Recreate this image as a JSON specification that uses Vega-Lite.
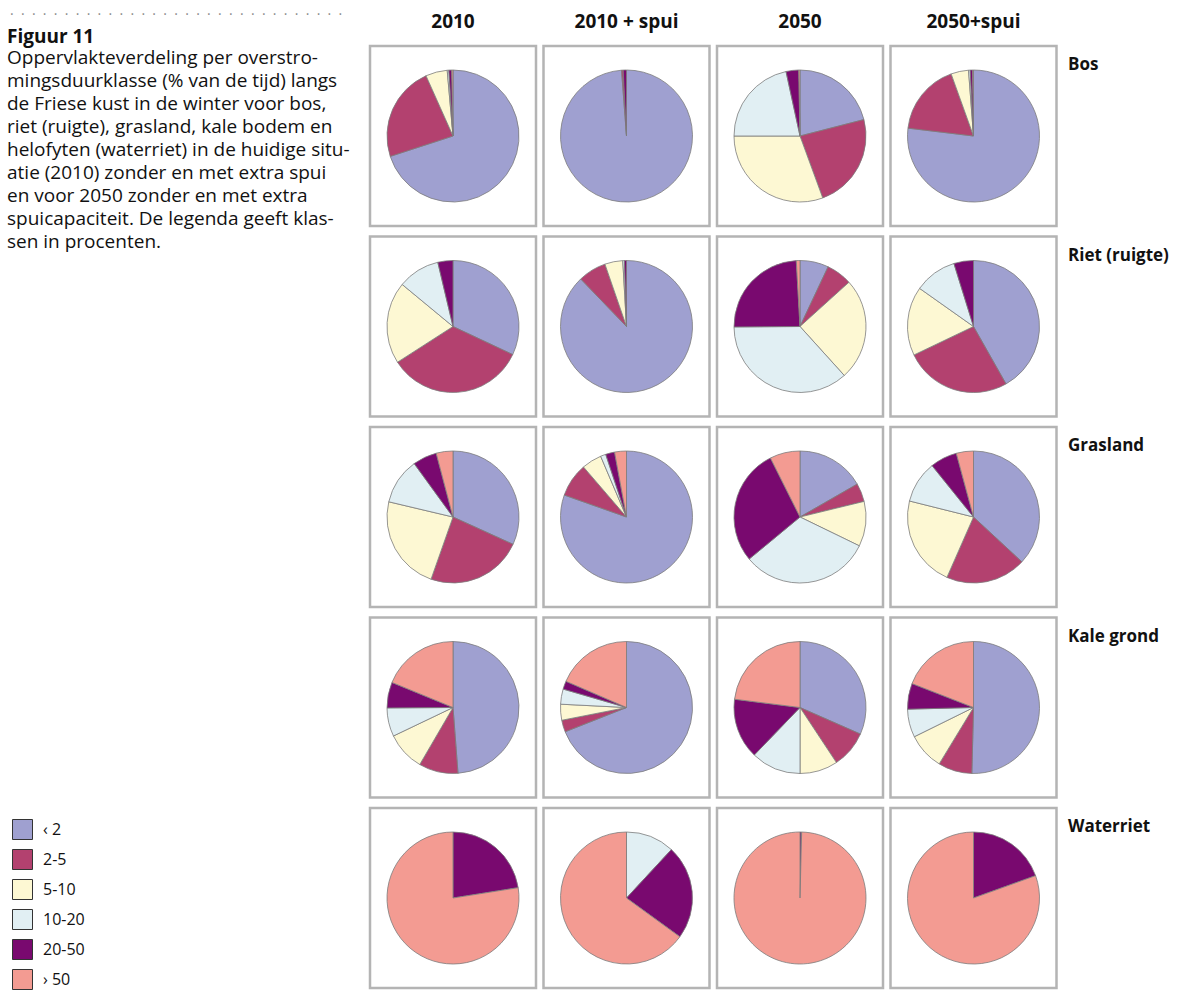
{
  "$schema": "https://vega.github.io/schema/vega-lite/v6.json",
  "padding": {"left": 7, "top": 8, "right": 0, "bottom": 0},
  "background": "white",
  "bounds": "flush",
  "config": {
    "font": "Open Sans",
    "view": {"stroke": null}
  },
  "title": {
    "text": "· \u00a0· \u00a0· \u00a0· \u00a0· \u00a0· \u00a0· \u00a0· \u00a0· \u00a0· \u00a0· \u00a0· \u00a0· \u00a0· \u00a0· \u00a0· \u00a0· \u00a0· \u00a0· \u00a0· \u00a0· \u00a0· \u00a0· \u00a0· \u00a0· \u00a0· \u00a0· \u00a0· \u00a0· \u00a0· \u00a0·",
    "anchor": "start",
    "frame": "bounds",
    "font": "Open Sans",
    "fontSize": 14,
    "fontWeight": "normal",
    "color": "#8a8a8a",
    "offset": 0,
    "dx": 3,
    "dy": 9
  },
  "spacing": 11,
  "datasets": {
    "klassen": [
      {"klasse": "‹ 2", "volgorde": 1},
      {"klasse": "2-5", "volgorde": 2},
      {"klasse": "5-10", "volgorde": 3},
      {"klasse": "10-20", "volgorde": 4},
      {"klasse": "20-50", "volgorde": 5},
      {"klasse": "› 50", "volgorde": 6}
    ],
    "verdeling": [
      {"situatie": "2010", "begroeiing": "Bos", "klasse": "‹ 2", "procent": 70.0},
      {"situatie": "2010", "begroeiing": "Bos", "klasse": "2-5", "procent": 23.3},
      {"situatie": "2010", "begroeiing": "Bos", "klasse": "5-10", "procent": 5.3},
      {"situatie": "2010", "begroeiing": "Bos", "klasse": "10-20", "procent": 0.4},
      {"situatie": "2010", "begroeiing": "Bos", "klasse": "20-50", "procent": 0.7},
      {"situatie": "2010", "begroeiing": "Bos", "klasse": "› 50", "procent": 0.3},
      {"situatie": "2010 + spui", "begroeiing": "Bos", "klasse": "‹ 2", "procent": 98.8},
      {"situatie": "2010 + spui", "begroeiing": "Bos", "klasse": "2-5", "procent": 0.4},
      {"situatie": "2010 + spui", "begroeiing": "Bos", "klasse": "20-50", "procent": 0.8},
      {"situatie": "2050", "begroeiing": "Bos", "klasse": "‹ 2", "procent": 21.0},
      {"situatie": "2050", "begroeiing": "Bos", "klasse": "2-5", "procent": 23.4},
      {"situatie": "2050", "begroeiing": "Bos", "klasse": "5-10", "procent": 30.6},
      {"situatie": "2050", "begroeiing": "Bos", "klasse": "10-20", "procent": 21.6},
      {"situatie": "2050", "begroeiing": "Bos", "klasse": "20-50", "procent": 3.1},
      {"situatie": "2050", "begroeiing": "Bos", "klasse": "› 50", "procent": 0.3},
      {"situatie": "2050+spui", "begroeiing": "Bos", "klasse": "‹ 2", "procent": 76.9},
      {"situatie": "2050+spui", "begroeiing": "Bos", "klasse": "2-5", "procent": 17.6},
      {"situatie": "2050+spui", "begroeiing": "Bos", "klasse": "5-10", "procent": 4.3},
      {"situatie": "2050+spui", "begroeiing": "Bos", "klasse": "10-20", "procent": 0.4},
      {"situatie": "2050+spui", "begroeiing": "Bos", "klasse": "20-50", "procent": 0.6},
      {"situatie": "2050+spui", "begroeiing": "Bos", "klasse": "› 50", "procent": 0.2},

      {"situatie": "2010", "begroeiing": "Riet (ruigte)", "klasse": "‹ 2", "procent": 32.0},
      {"situatie": "2010", "begroeiing": "Riet (ruigte)", "klasse": "2-5", "procent": 33.9},
      {"situatie": "2010", "begroeiing": "Riet (ruigte)", "klasse": "5-10", "procent": 20.1},
      {"situatie": "2010", "begroeiing": "Riet (ruigte)", "klasse": "10-20", "procent": 10.3},
      {"situatie": "2010", "begroeiing": "Riet (ruigte)", "klasse": "20-50", "procent": 3.7},
      {"situatie": "2010 + spui", "begroeiing": "Riet (ruigte)", "klasse": "‹ 2", "procent": 87.8},
      {"situatie": "2010 + spui", "begroeiing": "Riet (ruigte)", "klasse": "2-5", "procent": 6.9},
      {"situatie": "2010 + spui", "begroeiing": "Riet (ruigte)", "klasse": "5-10", "procent": 4.4},
      {"situatie": "2010 + spui", "begroeiing": "Riet (ruigte)", "klasse": "10-20", "procent": 0.4},
      {"situatie": "2010 + spui", "begroeiing": "Riet (ruigte)", "klasse": "20-50", "procent": 0.5},
      {"situatie": "2050", "begroeiing": "Riet (ruigte)", "klasse": "‹ 2", "procent": 7.0},
      {"situatie": "2050", "begroeiing": "Riet (ruigte)", "klasse": "2-5", "procent": 6.3},
      {"situatie": "2050", "begroeiing": "Riet (ruigte)", "klasse": "5-10", "procent": 25.0},
      {"situatie": "2050", "begroeiing": "Riet (ruigte)", "klasse": "10-20", "procent": 36.6},
      {"situatie": "2050", "begroeiing": "Riet (ruigte)", "klasse": "20-50", "procent": 24.2},
      {"situatie": "2050", "begroeiing": "Riet (ruigte)", "klasse": "› 50", "procent": 0.9},
      {"situatie": "2050+spui", "begroeiing": "Riet (ruigte)", "klasse": "‹ 2", "procent": 41.8},
      {"situatie": "2050+spui", "begroeiing": "Riet (ruigte)", "klasse": "2-5", "procent": 26.1},
      {"situatie": "2050+spui", "begroeiing": "Riet (ruigte)", "klasse": "5-10", "procent": 16.9},
      {"situatie": "2050+spui", "begroeiing": "Riet (ruigte)", "klasse": "10-20", "procent": 10.4},
      {"situatie": "2050+spui", "begroeiing": "Riet (ruigte)", "klasse": "20-50", "procent": 4.8},

      {"situatie": "2010", "begroeiing": "Grasland", "klasse": "‹ 2", "procent": 31.8},
      {"situatie": "2010", "begroeiing": "Grasland", "klasse": "2-5", "procent": 23.6},
      {"situatie": "2010", "begroeiing": "Grasland", "klasse": "5-10", "procent": 23.3},
      {"situatie": "2010", "begroeiing": "Grasland", "klasse": "10-20", "procent": 11.3},
      {"situatie": "2010", "begroeiing": "Grasland", "klasse": "20-50", "procent": 5.9},
      {"situatie": "2010", "begroeiing": "Grasland", "klasse": "› 50", "procent": 4.1},
      {"situatie": "2010 + spui", "begroeiing": "Grasland", "klasse": "‹ 2", "procent": 80.4},
      {"situatie": "2010 + spui", "begroeiing": "Grasland", "klasse": "2-5", "procent": 8.3},
      {"situatie": "2010 + spui", "begroeiing": "Grasland", "klasse": "5-10", "procent": 4.9},
      {"situatie": "2010 + spui", "begroeiing": "Grasland", "klasse": "10-20", "procent": 1.3},
      {"situatie": "2010 + spui", "begroeiing": "Grasland", "klasse": "20-50", "procent": 2.2},
      {"situatie": "2010 + spui", "begroeiing": "Grasland", "klasse": "› 50", "procent": 2.9},
      {"situatie": "2050", "begroeiing": "Grasland", "klasse": "‹ 2", "procent": 16.7},
      {"situatie": "2050", "begroeiing": "Grasland", "klasse": "2-5", "procent": 4.5},
      {"situatie": "2050", "begroeiing": "Grasland", "klasse": "5-10", "procent": 11.0},
      {"situatie": "2050", "begroeiing": "Grasland", "klasse": "10-20", "procent": 31.8},
      {"situatie": "2050", "begroeiing": "Grasland", "klasse": "20-50", "procent": 28.6},
      {"situatie": "2050", "begroeiing": "Grasland", "klasse": "› 50", "procent": 7.4},
      {"situatie": "2050+spui", "begroeiing": "Grasland", "klasse": "‹ 2", "procent": 36.9},
      {"situatie": "2050+spui", "begroeiing": "Grasland", "klasse": "2-5", "procent": 19.7},
      {"situatie": "2050+spui", "begroeiing": "Grasland", "klasse": "5-10", "procent": 22.3},
      {"situatie": "2050+spui", "begroeiing": "Grasland", "klasse": "10-20", "procent": 10.3},
      {"situatie": "2050+spui", "begroeiing": "Grasland", "klasse": "20-50", "procent": 6.6},
      {"situatie": "2050+spui", "begroeiing": "Grasland", "klasse": "› 50", "procent": 4.2},

      {"situatie": "2010", "begroeiing": "Kale grond", "klasse": "‹ 2", "procent": 48.8},
      {"situatie": "2010", "begroeiing": "Kale grond", "klasse": "2-5", "procent": 9.6},
      {"situatie": "2010", "begroeiing": "Kale grond", "klasse": "5-10", "procent": 9.5},
      {"situatie": "2010", "begroeiing": "Kale grond", "klasse": "10-20", "procent": 7.0},
      {"situatie": "2010", "begroeiing": "Kale grond", "klasse": "20-50", "procent": 6.3},
      {"situatie": "2010", "begroeiing": "Kale grond", "klasse": "› 50", "procent": 18.8},
      {"situatie": "2010 + spui", "begroeiing": "Kale grond", "klasse": "‹ 2", "procent": 69.0},
      {"situatie": "2010 + spui", "begroeiing": "Kale grond", "klasse": "2-5", "procent": 2.9},
      {"situatie": "2010 + spui", "begroeiing": "Kale grond", "klasse": "5-10", "procent": 3.9},
      {"situatie": "2010 + spui", "begroeiing": "Kale grond", "klasse": "10-20", "procent": 3.7},
      {"situatie": "2010 + spui", "begroeiing": "Kale grond", "klasse": "20-50", "procent": 2.0},
      {"situatie": "2010 + spui", "begroeiing": "Kale grond", "klasse": "› 50", "procent": 18.5},
      {"situatie": "2050", "begroeiing": "Kale grond", "klasse": "‹ 2", "procent": 31.6},
      {"situatie": "2050", "begroeiing": "Kale grond", "klasse": "2-5", "procent": 9.1},
      {"situatie": "2050", "begroeiing": "Kale grond", "klasse": "5-10", "procent": 9.3},
      {"situatie": "2050", "begroeiing": "Kale grond", "klasse": "10-20", "procent": 12.2},
      {"situatie": "2050", "begroeiing": "Kale grond", "klasse": "20-50", "procent": 14.8},
      {"situatie": "2050", "begroeiing": "Kale grond", "klasse": "› 50", "procent": 23.0},
      {"situatie": "2050+spui", "begroeiing": "Kale grond", "klasse": "‹ 2", "procent": 50.4},
      {"situatie": "2050+spui", "begroeiing": "Kale grond", "klasse": "2-5", "procent": 8.3},
      {"situatie": "2050+spui", "begroeiing": "Kale grond", "klasse": "5-10", "procent": 9.0},
      {"situatie": "2050+spui", "begroeiing": "Kale grond", "klasse": "10-20", "procent": 6.9},
      {"situatie": "2050+spui", "begroeiing": "Kale grond", "klasse": "20-50", "procent": 6.3},
      {"situatie": "2050+spui", "begroeiing": "Kale grond", "klasse": "› 50", "procent": 19.1},

      {"situatie": "2010", "begroeiing": "Waterriet", "klasse": "20-50", "procent": 22.5},
      {"situatie": "2010", "begroeiing": "Waterriet", "klasse": "› 50", "procent": 77.5},
      {"situatie": "2010 + spui", "begroeiing": "Waterriet", "klasse": "10-20", "procent": 11.9},
      {"situatie": "2010 + spui", "begroeiing": "Waterriet", "klasse": "20-50", "procent": 23.1},
      {"situatie": "2010 + spui", "begroeiing": "Waterriet", "klasse": "› 50", "procent": 65.0},
      {"situatie": "2050", "begroeiing": "Waterriet", "klasse": "20-50", "procent": 0.4},
      {"situatie": "2050", "begroeiing": "Waterriet", "klasse": "› 50", "procent": 99.6},
      {"situatie": "2050+spui", "begroeiing": "Waterriet", "klasse": "20-50", "procent": 19.5},
      {"situatie": "2050+spui", "begroeiing": "Waterriet", "klasse": "› 50", "procent": 80.5}
    ]
  },
  "hconcat": [
    {
      "width": 352,
      "height": 1,
      "data": {"values": [{"bijschrift": "Figuur 11"}]},
      "title": {
        "text": "Figuur 11",
        "subtitle": [
          "Oppervlakteverdeling per overstro-",
          "mingsduurklasse (% van de tijd) langs",
          "de Friese kust in de winter voor bos,",
          "riet (ruigte), grasland, kale bodem en",
          "helofyten (waterriet) in de huidige situ-",
          "atie (2010) zonder en met extra spui",
          "en voor 2050 zonder en met extra",
          "spuicapaciteit. De legenda geeft klas-",
          "sen in procenten."
        ],
        "orient": "bottom",
        "anchor": "start",
        "offset": -19,
        "font": "Open Sans",
        "fontSize": 19,
        "fontWeight": "bold",
        "color": "#111111",
        "subtitleFont": "Open Sans",
        "subtitleFontSize": 19,
        "subtitleColor": "#111111",
        "subtitleLineHeight": 23,
        "subtitlePadding": 2
      },
      "mark": {"type": "rule", "opacity": 0},
      "encoding": {"y": {"value": 0}}
    },
    {
      "data": {"name": "verdeling"},
      "transform": [
        {"lookup": "klasse", "from": {"data": {"name": "klassen"}, "key": "klasse", "fields": ["volgorde"]}}
      ],
      "facet": {
        "column": {
          "field": "situatie",
          "type": "nominal",
          "sort": ["2010", "2010 + spui", "2050", "2050+spui"],
          "header": {
            "title": null,
            "labelFont": "Open Sans",
            "labelFontSize": 19,
            "labelFontWeight": "bold",
            "labelColor": "#111111",
            "labelPadding": 12
          }
        },
        "row": {
          "field": "begroeiing",
          "type": "nominal",
          "sort": ["Bos", "Riet (ruigte)", "Grasland", "Kale grond", "Waterriet"],
          "header": {
            "title": null,
            "labelOrient": "right",
            "labelAngle": 0,
            "labelAlign": "right",
            "labelAnchor": "start",
            "labelBaseline": "top",
            "labelExpr": "['', datum.label]",
            "labelLineHeight": 11,
            "labelFont": "Open Sans",
            "labelFontSize": 17,
            "labelFontWeight": "bold",
            "labelColor": "#111111",
            "labelPadding": 10
          }
        }
      },
      "spacing": {"row": 6.5, "column": 3.5},
      "spec": {
        "width": 166,
        "height": 180,
        "view": {"stroke": "#b4b4b4", "strokeWidth": 2.5, "fill": "white"},
        "mark": {"type": "arc", "outerRadius": 66, "stroke": "#7c7c7c", "strokeWidth": 0.8},
        "encoding": {
          "theta": {"field": "procent", "type": "quantitative", "stack": true},
          "order": {"field": "volgorde", "type": "quantitative", "sort": "ascending"},
          "color": {
            "field": "klasse",
            "type": "nominal",
            "sort": ["‹ 2", "2-5", "5-10", "10-20", "20-50", "› 50"],
            "scale": {
              "domain": ["‹ 2", "2-5", "5-10", "10-20", "20-50", "› 50"],
              "range": ["#9fa0d0", "#b3416f", "#fdf8d3", "#e1eff3", "#79096f", "#f39b92"]
            },
            "legend": {
              "title": null,
              "orient": "none",
              "legendX": 5,
              "legendY": 773,
              "symbolType": "square",
              "symbolSize": 400,
              "symbolStrokeColor": "#333333",
              "symbolStrokeWidth": 1,
              "labelFont": "Open Sans",
              "labelFontSize": 16,
              "labelColor": "#111111",
              "labelOffset": 10,
              "rowPadding": 5
            }
          }
        }
      }
    }
  ]
}
